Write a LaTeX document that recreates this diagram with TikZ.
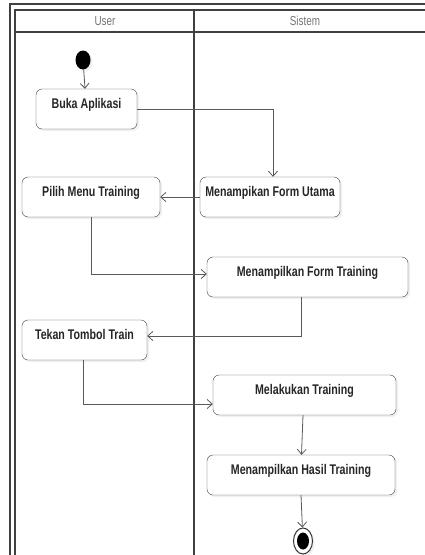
\documentclass[tikz,border=0pt]{standalone}
\usepackage{fontspec}
\newfontfamily\boxfont[FakeStretch=0.76]{Liberation Sans}
\usetikzlibrary{shapes.geometric}
\usetikzlibrary{arrows.meta}
\usetikzlibrary{shadows}

\begin{document}
\begin{tikzpicture}[
    x=1pt, y=1pt,
    actnode/.style={draw=black!75, rounded corners=6pt, fill=white, inner xsep=0pt, inner ysep=0pt,
      text height=19pt, text depth=21pt, text=black!85,
      font=\boxfont\bfseries\fontsize{14}{16}\selectfont,
      drop shadow={opacity=0.12, shadow xshift=2pt, shadow yshift=-2pt}},
    flow/.style={draw=black!65, line width=0.8pt, -{Straight Barb[length=5pt,width=9pt]}},
    lane/.style={draw=black!75, line width=1.6pt},
    lanetitle/.style={text=black!55, font=\boxfont\fontsize{13}{15}\selectfont},
    hv/.style={to path={-| (\tikztotarget)}},
    vh/.style={to path={|- (\tikztotarget)}}
    ]

    \useasboundingbox (0,0) rectangle (425,-555);
    \clip (0,0) rectangle (425,-555);

    % swimlanes
    \draw[lane] (10,-560) -- (10,-4) -- (430,-4);
    \draw[lane] (15,-560) -- (15,-10) -- (430,-10);
    \draw[lane] (15,-32) -- (430,-32);
    \draw[lane] (194,-10) -- (194,-560);

    \node[lanetitle] (user) at (105,-21) {User};
    \node[lanetitle] (sistem) at (305,-21) {Sistem};

    \node[ellipse, fill=black, minimum width=15pt, minimum height=19pt, inner sep=0pt,
      drop shadow={opacity=0.12, shadow xshift=2pt, shadow yshift=-2pt}] (start) at (83,-60) {};

    \node[actnode, minimum width=101pt] (buka) at (86.5,-109) {Buka Aplikasi};
    \node[actnode, minimum width=140pt] (utama) at (270,-197) {Menampikan Form Utama};
    \node[actnode, minimum width=138pt] (pilih) at (91,-197) {Pilih Menu Training};
    \node[actnode, minimum width=201pt] (formtrain) at (307.5,-277) {Menampilkan Form Training};
    \node[actnode, minimum width=125pt] (tekan) at (84.5,-340) {Tekan Tombol Train};
    \node[actnode, minimum width=183pt] (melakukan) at (304.5,-395) {Melakukan Training};
    \node[actnode, minimum width=188pt] (hasil) at (301,-475) {Menampilkan Hasil Training};

    \node[ellipse, draw=black!80, fill=white, line width=1pt, minimum width=19pt, minimum height=26pt,
      inner sep=0pt, drop shadow={opacity=0.12, shadow xshift=2pt, shadow yshift=-2pt}] (stop) at (303,-541) {};
    \node[ellipse, fill=black, minimum width=12pt, minimum height=17pt, inner sep=0pt] (stopdot) at (stop.center) {};

    \path (start) edge[flow] (buka)
    (buka.east) edge[flow, hv] ([xshift=3pt]utama.north)
    (utama) edge[flow] (pilih)
    (pilih.south) edge[flow, vh] ([yshift=3pt]formtrain.west)
    ([xshift=-6pt]formtrain.south) edge[flow, vh] ([yshift=4pt]tekan.east)
    ([xshift=-1.5pt]tekan.south) edge[flow, vh] ([yshift=-9pt]melakukan.west)
    ([xshift=-1.5pt]melakukan.south) edge[flow] ([xshift=0.5pt]hasil.north)
    (hasil.south) edge[flow] (stop)
    ;

\end{tikzpicture}
\end{document}
